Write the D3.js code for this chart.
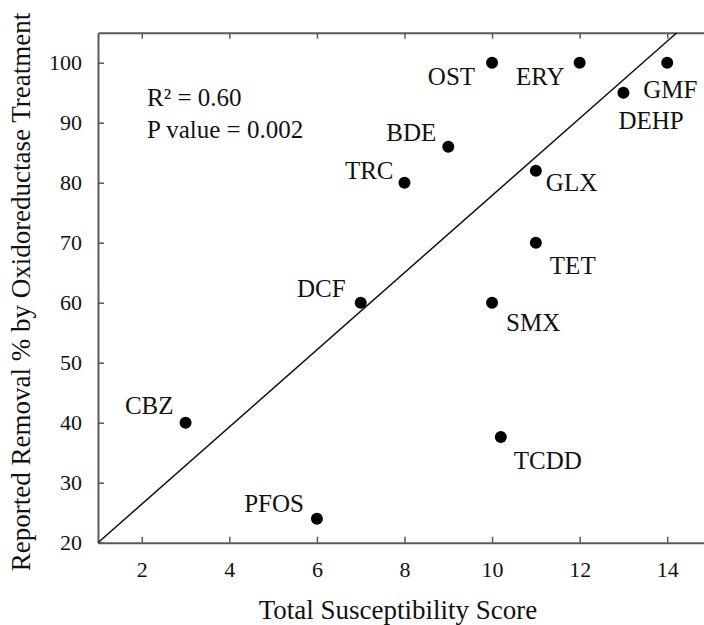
<!DOCTYPE html>
<html>
<head>
<meta charset="utf-8">
<script src="https://cdn.jsdelivr.net/npm/d3@7"></script>
<style>
	body { margin: 0; background: #fff; }
	svg { display: block; }
	text { font-family: "Liberation Serif", "Times New Roman", serif; fill: #111; }
</style>
</head>
<body>
<div id="chart"></div>
<script>

const WIDTH = 704;
const HEIGHT = 625;

// compounds and values
const names = ["CBZ", "PFOS", "DCF", "TRC", "BDE", "OST", "SMX", "TCDD", "GLX", "TET", "ERY", "DEHP", "GMF"];
const scores = [3, 6, 7, 8, 9, 10, 10, 10.2, 11, 11, 12, 13, 14];
const removal = [40, 24, 60, 80, 86, 100, 60, 37.6, 82, 70, 100, 95, 100];

const xTicks = [2, 4, 6, 8, 10, 12, 14];
const yTicks = [20, 30, 40, 50, 60, 70, 80, 90, 100];

// regression line: intercept, slope
const fitCoef = [13.57, 6.43];
const stats = ["R\u00b2 = 0.60", "P value = 0.002"];

// label placement (pixels from the dot, anchor)
const labelPos = {
	CBZ: [-12, -9, "end"],
	PFOS: [-13, -7, "end"],
	DCF: [-15, -6, "end"],
	TRC: [-11, -4, "end"],
	BDE: [-12, -6, "end"],
	OST: [-17, 22, "end"],
	SMX: [14, 28, "start"],
	TCDD: [13, 32, "start"],
	GLX: [10, 20, "start"],
	TET: [14, 31, "start"],
	ERY: [-15, 22, "end"],
	DEHP: [-5, 36, "start"],
	GMF: [-24, 35, "start"]
};

const margin = { top: 32.7, left: 98, right: -7, bottom: 82.3 };

const svg = d3.select("#chart").append("svg")
	.attr("width", WIDTH)
	.attr("height", HEIGHT);

const x = d3.scaleLinear()
	.domain([1, 15])
	.range([margin.left, WIDTH - margin.right]);

const y = d3.scaleLinear()
	.domain([20, 105])
	.range([HEIGHT - margin.bottom, margin.top]);

const axisColor = "#5a5a5a";

function styleAxis (g) {
	g.select(".domain").attr("stroke", axisColor).attr("stroke-width", 2);
	g.selectAll(".tick line").attr("stroke", axisColor).attr("stroke-width", 1.5);
	g.selectAll(".tick text")
		.attr("fill", "#111")
		.style("font-family", "'Liberation Serif', serif")
		.style("font-size", "22px");
}

svg.append("g")
	.attr("transform", `translate(0,${y(20)})`)
	.call(d3.axisBottom(x).tickValues(xTicks).tickSize(-6).tickSizeOuter(0).tickPadding(19))
	.call(styleAxis);

svg.append("g")
	.attr("transform", `translate(0,${y(105)})`)
	.call(d3.axisTop(x).tickValues(xTicks).tickSize(-6).tickSizeOuter(0).tickFormat(""))
	.call(styleAxis);

svg.append("g")
	.attr("transform", `translate(${x(1)},0)`)
	.call(d3.axisLeft(y).tickValues(yTicks).tickSize(-6).tickSizeOuter(0).tickPadding(16))
	.call(styleAxis);

svg.append("g")
	.attr("transform", `translate(${x(15)},0)`)
	.call(d3.axisRight(y).tickValues(yTicks).tickSize(-6).tickSizeOuter(0).tickFormat(""))
	.call(styleAxis);

// fitted line, clipped to the plot area
svg.append("clipPath")
	.attr("id", "plot-clip")
	.append("rect")
	.attr("x", x(1))
	.attr("y", y(105))
	.attr("width", x(15) - x(1))
	.attr("height", y(20) - y(105));

let fitEnd = (105 - fitCoef[0]) / fitCoef[1];
svg.append("line")
	.attr("clip-path", "url(#plot-clip)")
	.attr("x1", x(1))
	.attr("y1", y(fitCoef[0] + fitCoef[1] * 1))
	.attr("x2", x(fitEnd))
	.attr("y2", y(fitCoef[0] + fitCoef[1] * fitEnd))
	.attr("stroke", "#111")
	.attr("stroke-width", 1.5);

const points = names.map((n, i) => ({ name: n, score: scores[i], removal: removal[i] }));

svg.selectAll(".dot")
	.data(points)
	.enter()
	.append("circle")
	.attr("class", "dot")
	.attr("cx", d => x(d.score))
	.attr("cy", d => y(d.removal))
	.attr("r", 6)
	.attr("fill", "#000");

svg.selectAll(".label")
	.data(points)
	.enter()
	.append("text")
	.attr("class", "label")
	.attr("x", d => x(d.score) + labelPos[d.name][0])
	.attr("y", d => y(d.removal) + labelPos[d.name][1])
	.attr("text-anchor", d => labelPos[d.name][2])
	.style("font-size", "25px")
	.text(d => d.name);

svg.selectAll(".stat")
	.data(stats)
	.enter()
	.append("text")
	.attr("class", "stat")
	.attr("x", 147)
	.attr("y", (d, i) => 106 + i * 32)
	.style("font-size", "25px")
	.text(d => d);

svg.append("text")
	.attr("x", 398)
	.attr("y", 619)
	.attr("text-anchor", "middle")
	.style("font-size", "27px")
	.text("Total Susceptibility Score");

svg.append("text")
	.attr("transform", "translate(30,292) rotate(-90)")
	.attr("text-anchor", "middle")
	.style("font-size", "27px")
	.text("Reported Removal % by Oxidoreductase Treatment");

</script>
</body>
</html>
